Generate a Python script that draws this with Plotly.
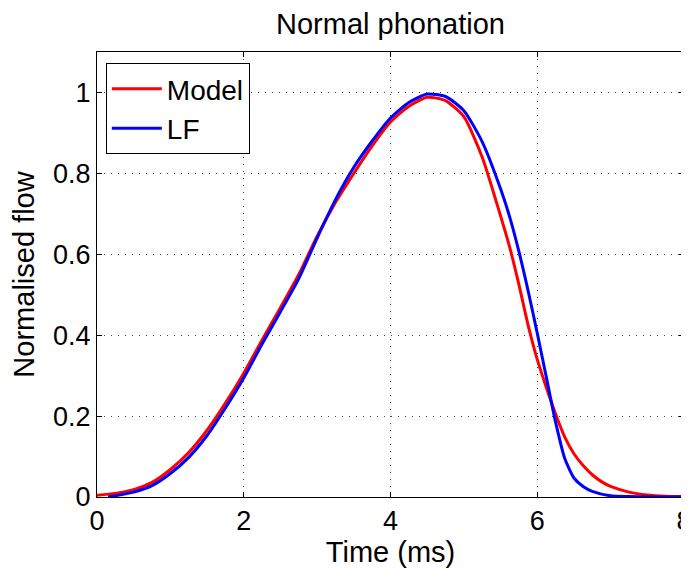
import plotly.graph_objects as go

# time axis (ms) and normalised flow
t_model = [0, 0.25, 0.5, 0.75, 1.0, 1.25, 1.5, 1.75, 2.0, 2.25, 2.5, 2.75, 3.0,
           3.25, 3.5, 3.75, 4.0, 4.25, 4.5, 4.75, 5.0, 5.25, 5.5, 5.625, 5.75,
           5.875, 6.0, 6.125, 6.25, 6.375, 6.5, 6.625, 6.75, 6.875, 7.0, 7.25,
           7.5, 7.75, 8.0]

model_flow = [0.004, 0.009, 0.018, 0.036, 0.068, 0.11, 0.165, 0.232, 0.306,
              0.388, 0.468, 0.55, 0.645, 0.728, 0.80, 0.868, 0.927, 0.966,
              0.988, 0.98, 0.94, 0.84, 0.695, 0.617, 0.525, 0.425, 0.34,
              0.27, 0.205, 0.148, 0.107, 0.078, 0.055, 0.038, 0.026, 0.012,
              0.005, 0.002, 0.001]

t_lf = [0.15, 0.25, 0.5, 0.75, 1.0, 1.25, 1.5, 1.75, 2.0, 2.25, 2.5, 2.75, 3.0,
        3.25, 3.5, 3.75, 4.0, 4.25, 4.5, 4.75, 5.0, 5.25, 5.5, 5.625, 5.75,
        5.875, 6.0, 6.125, 6.25, 6.375, 6.5, 6.625, 6.75, 7.0, 7.25, 7.5, 8.0]

lf_flow = [0.0, 0.003, 0.012, 0.028, 0.058, 0.098, 0.152, 0.22, 0.294,
           0.378, 0.458, 0.54, 0.64, 0.735, 0.815, 0.88, 0.937, 0.975,
           0.996, 0.99, 0.955, 0.878, 0.762, 0.692, 0.607, 0.51, 0.405,
           0.295, 0.185, 0.095, 0.047, 0.026, 0.014, 0.003, 0.001, 0.0, 0.0]

x_ticks = [0, 2, 4, 6, 8]
y_ticks = [0, 0.2, 0.4, 0.6, 0.8, 1]
y_tick_text = ["0", "0.2", "0.4", "0.6", "0.8", "1"]

font = "Liberation Sans, Arial, sans-serif"

fig = go.Figure()
fig.add_trace(go.Scatter(x=t_model, y=model_flow, mode="lines", name="Model",
                         line=dict(color="#ff0000", width=3, shape="spline", smoothing=0.6)))
fig.add_trace(go.Scatter(x=t_lf, y=lf_flow, mode="lines", name="LF",
                         line=dict(color="#0000ff", width=3, shape="spline", smoothing=0.6)))

axis_common = dict(showline=True, linecolor="black", linewidth=1, mirror="ticks",
                   ticks="inside", ticklen=5, tickcolor="black",
                   showgrid=True, gridcolor="#444444", griddash="1px,6px", gridwidth=1,
                   zeroline=False, automargin=False, ticklabeloverflow="allow",
                   tickfont=dict(size=27, color="black"))

fig.update_xaxes(range=[0, 8], tickvals=x_ticks, title_text="Time (ms)",
                 title_font=dict(size=29, color="black"), title_standoff=0,
                 **axis_common)
fig.update_yaxes(range=[0, 1.1], tickvals=y_ticks, ticktext=y_tick_text,
                 title_text="Normalised flow", title_font=dict(size=29, color="black"),
                 title_standoff=9, **axis_common)

# the page body adds an 8px offset, margins compensate for it
fig.update_layout(
    width=689, height=569,
    margin=dict(l=89, r=13, t=44, b=80),
    paper_bgcolor="white", plot_bgcolor="white",
    font=dict(family=font, color="black"),
    title=dict(text="Normal phonation", xref="paper", x=0.5, xanchor="center",
               yref="container", y=0.973, yanchor="middle",
               font=dict(size=29, color="black")),
    legend=dict(x=0.015, y=0.975, xanchor="left", yanchor="top",
                bordercolor="black", borderwidth=1, bgcolor="white",
                font=dict(size=28, color="black"), itemwidth=50,
                tracegroupgap=0),
    showlegend=True,
)

fig.write_html("out.html")
